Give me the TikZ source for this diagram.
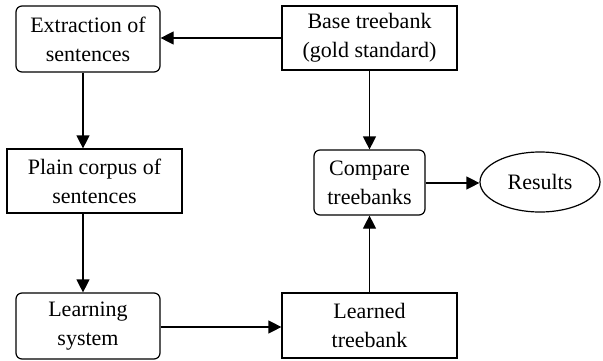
\documentclass[tikz,border=0pt]{standalone}
\usepackage{fontspec}
\setmainfont{Liberation Serif}
\usetikzlibrary{shapes.geometric,arrows.meta}
\begin{document}
\begin{tikzpicture}[x=1pt,y=1pt,
  box/.style={draw,line width=1.2pt,minimum width=#1,align=center,inner sep=0pt,
    font=\fontsize{22}{29}\selectfont},
  sharpbox/.style={box=#1},
  roundbox/.style={box=#1,rounded corners=6pt},
  arr/.style={line width=1.2pt,-{Triangle[length=13pt,width=13pt]}}]
\useasboundingbox (0,0) rectangle (603,360);
\node[roundbox=144, minimum height=66] (ext) at (88,321) {Extraction of\\sentences};
\node[sharpbox=175, minimum height=64] (base) at (369.5,322) {Base treebank\\(gold standard)};
\node[sharpbox=175, minimum height=64] (plain) at (94.5,179) {Plain corpus of\\sentences};
\node[roundbox=111, minimum height=65] (comp) at (369.5,177.5) {Compare\\treebanks};
\node[box=120, minimum height=60, ellipse] (res) at (540,178) {Results};
\node[roundbox=144, minimum height=66] (learn) at (88,34) {Learning\\system};
\node[sharpbox=175, minimum height=65] (learned) at (369.5,34.5) {Learned\\treebank};
\coordinate (xa) at (83,0);
\draw[arr] (base.west) -- (base.west -| ext.east);
\draw[arr] (ext.south -| xa) -- (plain.north -| xa);
\draw[arr] (plain.south -| xa) -- (learn.north -| xa);
\draw[arr] (learn.east |- 0,33) -- (learned.west |- 0,33);
\draw[arr] (learned.north) -- (comp.south);
\draw[arr] (base.south) -- (comp.north);
\draw[arr] (comp.east |- 0,177) -- (res.west |- 0,177);
\end{tikzpicture}
\end{document}
